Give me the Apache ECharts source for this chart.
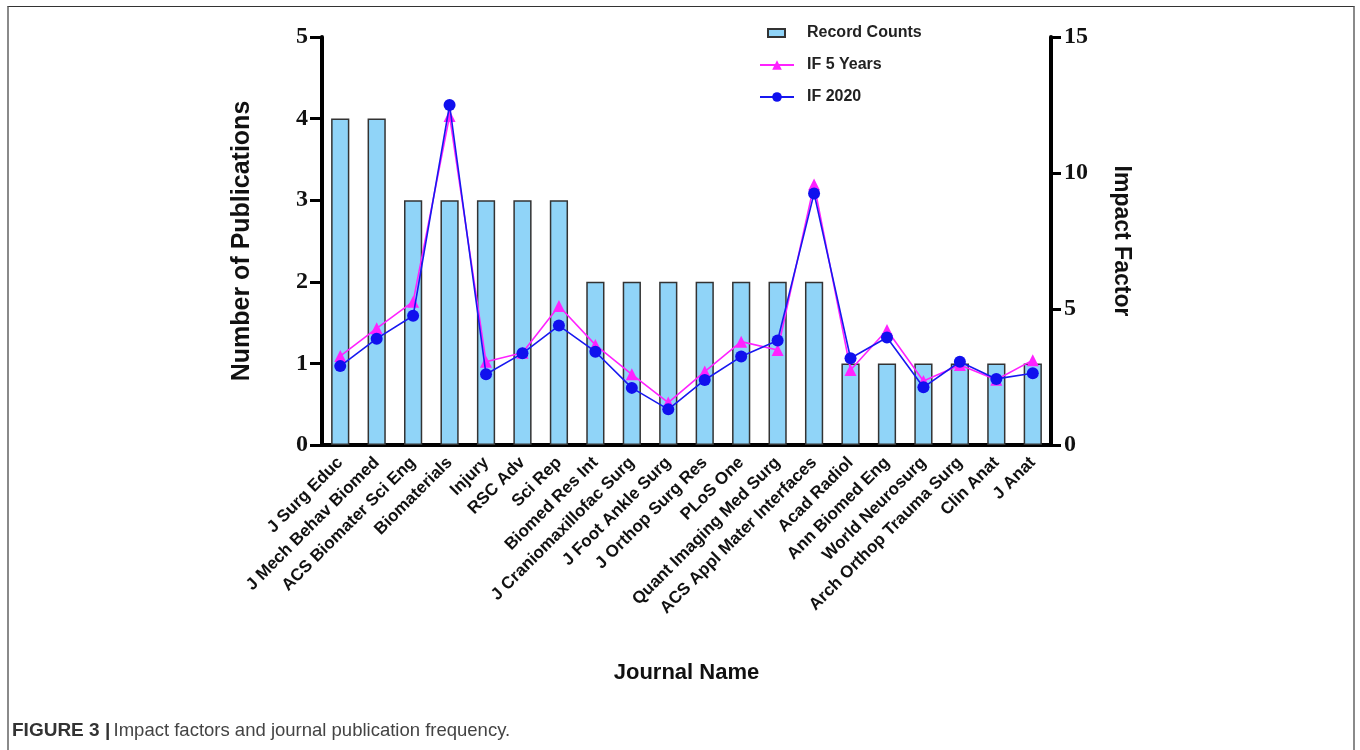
<!DOCTYPE html>
<html>
<head>
<meta charset="utf-8">
<script src="https://cdn.jsdelivr.net/npm/echarts@6/dist/echarts.min.js"></script>
<style>
html,body{margin:0;padding:0;background:#fff;}
#frame{position:absolute;left:7px;top:6px;width:1348px;height:760px;border-top:1.5px solid #333;border-left:2px solid #8a8a8a;border-right:2px solid #8a8a8a;box-sizing:border-box;}
#chart{position:absolute;left:0;top:0;width:1360px;height:750px;}
</style>
</head>
<body>
<div id="frame"></div>
<div id="chart"></div>
<script>
const journals = ["J Surg Educ","J Mech Behav Biomed","ACS Biomater Sci Eng","Biomaterials","Injury","RSC Adv","Sci Rep","Biomed Res Int","J Craniomaxillofac Surg","J Foot Ankle Surg","J Orthop Surg Res","PLoS One","Quant Imaging Med Surg","ACS Appl Mater Interfaces","Acad Radiol","Ann Biomed Eng","World Neurosurg","Arch Orthop Trauma Surg","Clin Anat","J Anat"];
const recordCounts = [4,4,3,3,3,3,3,2,2,2,2,2,2,2,1,1,1,1,1,1];
const if5Years = [3.27,4.29,5.27,12.1,3.06,3.39,5.11,3.68,2.60,1.56,2.70,3.80,3.49,9.58,2.76,4.23,2.35,2.94,2.40,3.12];
const if2020 = [2.90,3.91,4.75,12.5,2.60,3.37,4.39,3.43,2.10,1.31,2.39,3.25,3.84,9.25,3.19,3.95,2.12,3.06,2.43,2.64];
const leftTicks = {min:0,max:5,interval:1};
const rightTicks = {min:0,max:15,interval:5};

const chart = echarts.init(document.getElementById('chart'));
const serifNum = {fontFamily:'Liberation Serif, Times New Roman, serif',fontWeight:'bold',fontSize:24,color:'#111'};
const sans = 'Liberation Sans, Arial, Helvetica, sans-serif';
chart.setOption({
  animation:false,
  backgroundColor:'transparent',
  legend:[{
    data:[{name:'Record Counts',icon:'rect'}],
    left:762, top:20, orient:'vertical', itemWidth:17, itemHeight:8, itemGap:16,
    textStyle:{fontFamily:sans,fontWeight:'bold',fontSize:16,color:'#222',padding:[0,0,0,17]}
  },{
    data:['IF 5 Years','IF 2020'],
    left:754, top:52, orient:'vertical', itemWidth:34, itemHeight:12, itemGap:16,
    textStyle:{fontFamily:sans,fontWeight:'bold',fontSize:16,color:'#222',padding:[0,0,0,8]}
  }],
  grid:{left:322,right:309,top:37,bottom:305,containLabel:false},
  xAxis:{
    type:'category', data:journals,
    name:'Journal Name', nameLocation:'middle', nameGap:217,
    nameTextStyle:{fontFamily:sans,fontWeight:'bold',fontSize:22,color:'#111'},
    axisLine:{lineStyle:{color:'#000',width:4}},
    axisTick:{alignWithLabel:true,length:11,lineStyle:{color:'#000',width:3}},
    axisLabel:{rotate:45,interval:0,margin:15,fontFamily:sans,fontWeight:'bold',fontSize:17,color:'#111'}
  },
  yAxis:[{
    type:'value', min:leftTicks.min, max:leftTicks.max, interval:leftTicks.interval,
    name:'Number of Publications', nameLocation:'middle', nameGap:67,
    nameTextStyle:{fontFamily:sans,fontWeight:'bold',fontSize:25,color:'#111'},
    axisLine:{show:true,lineStyle:{color:'#000',width:4}},
    axisTick:{show:true,length:12,lineStyle:{color:'#000',width:3}},
    axisLabel:Object.assign({margin:14},serifNum),
    splitLine:{show:false}
  },{
    type:'value', min:rightTicks.min, max:rightTicks.max, interval:rightTicks.interval, position:'right',
    name:'Impact Factor', nameLocation:'middle', nameGap:59, nameRotate:-90,
    nameTextStyle:{fontFamily:sans,fontWeight:'bold',fontSize:23,color:'#111'},
    axisLine:{show:true,lineStyle:{color:'#000',width:4}},
    axisTick:{show:true,length:10,lineStyle:{color:'#000',width:3}},
    axisLabel:Object.assign({margin:13},serifNum),
    splitLine:{show:false}
  }],
  series:[{
    name:'Record Counts', type:'bar', data:recordCounts, yAxisIndex:0, barWidth:'50%',
    itemStyle:{color:'#90D4F8',borderColor:'#333',borderWidth:1.5}
  },{
    name:'IF 5 Years', type:'line', data:if5Years, yAxisIndex:1,
    symbol:'triangle', symbolSize:12,
    lineStyle:{color:'#ff22ff',width:1.6}, itemStyle:{color:'#ff22ff'}, z:3
  },{
    name:'IF 2020', type:'line', data:if2020, yAxisIndex:1,
    symbol:'circle', symbolSize:12,
    lineStyle:{color:'#1818f0',width:1.6}, itemStyle:{color:'#1010ee'}, z:4
  }],
  graphic:[{
    type:'text', left:12, top:721,
    style:{
      text:'{b|FIGURE 3 |} {n|Impact factors and journal publication frequency.}',
      rich:{
        b:{fontFamily:sans,fontWeight:'bold',fontSize:19,fill:'#333'},
        n:{fontFamily:sans,fontSize:18.5,fill:'#444'}
      }
    }
  }]
});
</script>
</body>
</html>
